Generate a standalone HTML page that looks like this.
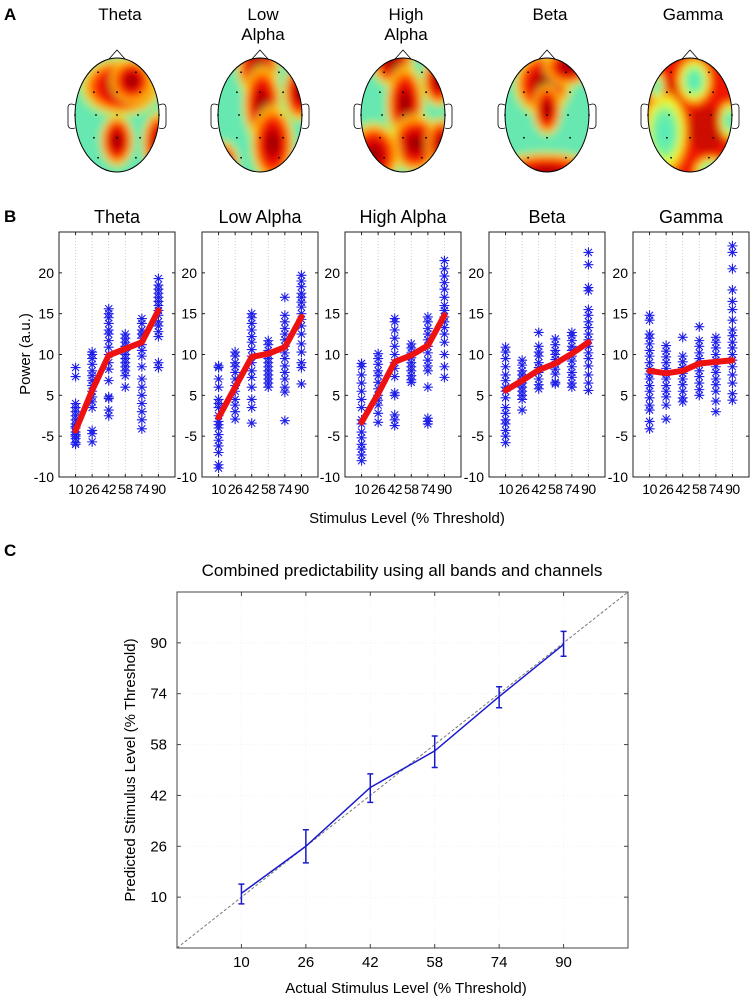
<!DOCTYPE html>
<html><head><meta charset="utf-8"><style>
html,body{margin:0;padding:0;background:#fff;}
svg{display:block;font-family:"Liberation Sans",Arial,sans-serif;}
</style></head><body>
<svg id="fig" width="754" height="1000" viewBox="0 0 754 1000" xmlns="http://www.w3.org/2000/svg">
<defs>
<radialGradient id="hot"><stop offset="0" stop-color="#7a0000"/><stop offset="0.3" stop-color="#d00000"/><stop offset="0.55" stop-color="#ff2000"/><stop offset="0.75" stop-color="#ffc000"/><stop offset="0.88" stop-color="#f0f040" stop-opacity="0.5"/><stop offset="1" stop-color="#66e8b0" stop-opacity="0"/></radialGradient>
<radialGradient id="cool"><stop offset="0" stop-color="#50e8c0"/><stop offset="0.4" stop-color="#70f0a0"/><stop offset="0.65" stop-color="#ffff20"/><stop offset="0.85" stop-color="#ff9000" stop-opacity="0.6"/><stop offset="1" stop-color="#ff2000" stop-opacity="0"/></radialGradient>
<filter id="soft" x="-30%" y="-30%" width="160%" height="160%"><feGaussianBlur stdDeviation="4"/></filter>
</defs>
<text x="4" y="20" font-size="17" font-weight="bold">A</text>
<text x="4" y="222" font-size="17" font-weight="bold">B</text>
<text x="4" y="556" font-size="17" font-weight="bold">C</text>
<g id="pa"></g>
<g id="pb"></g>
<text x="407" y="523" font-size="15" text-anchor="middle">Stimulus Level (% Threshold)</text>
<text transform="translate(30,354) rotate(-90)" font-size="15" text-anchor="middle">Power (a.u.)</text>
<g id="pc"></g>
</svg>
<script>
const NS='http://www.w3.org/2000/svg';
function mk(p,t,a){const e=document.createElementNS(NS,t);for(const k in a)e.setAttribute(k,a[k]);p.appendChild(e);return e;}

// ---------- Panel A topomaps ----------
const bandNames=['Theta','Low Alpha','High Alpha','Beta','Gamma'];
const headCx=[117,260,403,547,690];
const pa=document.getElementById('pa');
const hot=[
 [[0.1,-0.5,0.85,0.45],[0.35,-0.6,0.45,0.35],[0,0.45,0.35,0.4],[1.0,0.5,0.35,0.5]],
 [[-0.05,-0.85,0.45,0.5],[0.05,-0.2,0.4,0.6],[0.3,0.5,0.45,0.6],[0.95,-0.4,0.35,0.45],[-0.9,0.85,0.35,0.35]],
 [[-0.25,-0.95,0.45,0.4],[0.05,-0.2,0.4,0.6],[0.3,0.5,0.55,0.45],[0.85,-0.6,0.35,0.4],[-0.7,0.7,0.55,0.5],[0.9,0.5,0.3,0.4]],
 [[-0.1,-0.55,0.6,0.5],[0,-0.1,0.3,0.4],[0.5,-0.85,0.5,0.3],[0,1.05,1.2,0.35]],
 []
];
const coolB=[[0.1,-0.6,0.3,0.3],[-0.6,0.3,0.4,0.55],[0.95,0.1,0.2,0.25],[0.5,1.0,0.3,0.2],[-0.8,-0.5,0.15,0.2]];
headCx.forEach((cx,i)=>{
  const cy=115,rx=42,ry=57;
  const g=mk(pa,'g',{});
  
  
  const t=mk(g,'text',{x:cx+3,y:20,'font-size':17,'text-anchor':'middle'});
  
  
  if(bandNames[i].includes(' ')){const w=bandNames[i].split(' ');t.textContent=w[0];const t2=mk(g,'text',{x:cx+3,y:40,'font-size':17,'text-anchor':'middle'});t2.textContent=w[1];}
  else t.textContent=bandNames[i];
  const cp=mk(g,'clipPath',{id:'hc'+i});mk(cp,'ellipse',{cx:cx,cy:cy,rx:rx,ry:ry});
  mk(g,'path',{d:`M${cx-8} ${cy-ry+1} L${cx} ${cy-ry-8} L${cx+8} ${cy-ry+1}`,fill:'none',stroke:'#000','stroke-width':0.8});
  mk(g,'path',{d:`M${cx-rx} ${cy-10} q-7 -3 -7 3 v16 q0 6 7 4`,fill:'#fff',stroke:'#000','stroke-width':0.8});
  mk(g,'path',{d:`M${cx+rx} ${cy-10} q7 -3 7 3 v16 q0 6 -7 4`,fill:'#fff',stroke:'#000','stroke-width':0.8});
  const cg=mk(g,'g',{'clip-path':`url(#hc${i})`});
  const fg=mk(cg,'g',{filter:'url(#soft)'});
  if(i<4){
    mk(fg,'rect',{x:cx-rx-10,y:cy-ry-10,width:2*rx+20,height:2*ry+20,fill:'#66e8b0'});
    hot[i].forEach(b=>mk(fg,'ellipse',{cx:cx+b[0]*rx,cy:cy+b[1]*ry,rx:b[2]*rx*1.3,ry:b[3]*ry*1.3,fill:'url(#hot)'}));
  } else {
    mk(fg,'rect',{x:cx-rx-10,y:cy-ry-10,width:2*rx+20,height:2*ry+20,fill:'#f01800'});
    [[0.4,0.25,0.45,0.4],[-0.5,-0.3,0.3,0.3]].forEach(b=>mk(fg,'ellipse',{cx:cx+b[0]*rx,cy:cy+b[1]*ry,rx:b[2]*rx,ry:b[3]*ry,fill:'#a00000',opacity:0.45}));
    coolB.forEach(b=>mk(fg,'ellipse',{cx:cx+b[0]*rx,cy:cy+b[1]*ry,rx:b[2]*rx*1.6,ry:b[3]*ry*1.6,fill:'url(#cool)'}));
  }
  mk(g,'ellipse',{cx:cx,cy:cy,rx:rx,ry:ry,fill:'none',stroke:'#000','stroke-width':1});
  [[-0.45,-0.75],[0.45,-0.75],[-0.55,-0.4],[0,-0.4],[0.55,-0.4],[-1,0],[-0.5,0],[0,0],[0.5,0],[1,0],[-0.55,0.4],[0,0.4],[0.55,0.4],[-0.45,0.75],[0.45,0.75]].forEach(p=>mk(g,'circle',{cx:cx+p[0]*rx,cy:cy+p[1]*ry,r:0.9,fill:'#000'}));
});

// ---------- Panel B scatter ----------
const levels=[10,26,42,58,74,90];
const bYTicks=[-10,-5,0,5,10,15];
const bYTickLabels=['-10','-5','5','10','15','20'];
const meanTheta=[-4.3,0.6,4.9,5.7,6.5,10.4];
const meanLowAlpha=[-2.7,1.0,4.7,5.1,5.9,9.6];
const meanHighAlpha=[-3.3,0.2,4.1,4.9,6.1,9.8];
const meanBeta=[0.6,1.8,3.1,3.9,5.1,6.5];
const meanGamma=[3.0,2.7,3.0,3.9,4.1,4.3];
const ptsTheta=[[3.4,2.3,-1,-1.5,-2,-2.5,-3,-3.5,-4,-4.5,-5,-5.3,-5.8,-6,-4.8,-3.8],[5.3,5,4.5,3.8,3,2.4,1.8,1.2,0.5,-0.2,-0.8,-1.5,-4.3,-4.7,-5.7],[10.6,10,9.5,8.8,8,7.5,6.7,5.9,5,4,3.2,1.8,-0.2,-0.4,-1.8,-2.5],[7.5,7,6.5,6,5.5,5,4.5,4,3.5,3,2.4,1],[9.4,8.8,8,7.5,7,6.2,5.5,4.8,3.5,2,1,0,-1,-2,-3,-4.1],[14.3,13.5,13,12.5,12,11.5,11,10.4,9.8,9,8.5,7.8,7.2,4,3.4]];
const ptsLowAlpha=[[3.6,3.4,2,1,-0.5,-1.5,-2.5,-3.2,-4,-4.8,-5.5,-6.2,-7,-8.5,-8.9,-1,-3.6],[5.3,4.8,4,3.5,2.8,2,1.2,0.5,-0.5,-1.2,-2,-2.9],[10,9.5,8.8,8,7.2,6.5,5.6,4.8,4,3,2.2,1,-0.5,-1.5,-3.4],[6.7,6.2,5.5,5,4.5,4,3.5,3,2.5,2,1.5,1],[12,9.8,9,8.2,7.5,6.8,6,5.2,4.5,3.6,2.8,2,1,0.4,-3.1],[14.7,14,13.3,12.5,12,11.4,10.8,10,9.3,8.5,7.5,6.3,5.3,4,3.4,1.4]];
const ptsHighAlpha=[[3.9,3.5,2.5,1.5,0.5,-0.5,-1.5,-3,-3.5,-4.5,-5.2,-6,-6.6,-7.3,-8],[5.1,4.5,3.8,3,2.4,1.6,0.8,0,-0.6,-1.2,-2.2,-3.3],[9.4,9,8,7,6,5,4,3.3,2.3,0.3,0,-2.4,-3,-3.7],[6.3,5.8,5.2,4.6,4,3.5,3,2.4,1.9,1.6],[9.6,9,8.2,7.5,6.8,6,5.2,4.3,3.6,3,1,-2.8,-3.2,-3.5],[16.5,15.5,14.6,13.8,13,12,11,10.4,9.6,9,8.3,7.5,6.5,5,3.5,2.2]];
const ptsBeta=[[5.9,5.3,4.5,3.5,2.5,1.8,1,0.5,-0.3,-1.5,-2.2,-3,-3.5,-4.3,-5,-5.8],[4.3,3.7,3,2.5,2,1.5,1,0.5,0,-0.5,-1.8],[7.7,6,5.3,4.8,4,3.4,2.8,2,1.3,0.8],[6.9,6.2,5.5,5,4.4,3.8,3.2,2.6,1.6,1.4],[7.7,7.3,6.7,6,5.5,4.8,4.2,3.5,2.8,2.2,1.5,1],[17.5,16,13.2,12.8,10.5,9.8,9,8.3,7.5,6.8,6,5.2,4.5,3.6,2.5,1.5,0.6]];
const ptsGamma=[[9.8,9.2,7.5,7,6.3,5.5,4.8,4,3.3,2.6,2,1.2,0.5,-0.3,-1.2,-1.8,-3.2,-4.1],[6.1,5.4,4.7,4,3.3,2.6,2,1.2,0.5,-0.2,-1.2,-2.9],[7.1,4.8,4.1,3.4,2.7,2,1.3,0.5,-0.3,-0.8],[8.4,6.7,6,5.2,4.5,3.8,3,2.3,1.5,0.7,0],[7.1,6.5,5.8,5,4.3,3.5,2.8,2,1.3,0.5,-0.7,-2],[18.3,17.5,15.5,12.9,11.5,10.5,9.2,8,7.3,6.5,5.8,5,4.3,3.5,2.5,1.5,0.2,-0.6]];
const bMeans=[meanTheta,meanLowAlpha,meanHighAlpha,meanBeta,meanGamma];
const bPts=[ptsTheta,ptsLowAlpha,ptsHighAlpha,ptsBeta,ptsGamma];
const bTitles=['Theta','Low Alpha','High Alpha','Beta','Gamma'];
const pb=document.getElementById('pb');
const bLeft=[59,202,345,489,633],bW=116,bTop=232,bBot=477;
function star(p,x,y,s,col){const d=[];for(let k=0;k<4;k++){const a=k*Math.PI/4;d.push(`M${x-s*Math.cos(a)} ${y-s*Math.sin(a)}L${x+s*Math.cos(a)} ${y+s*Math.sin(a)}`);}
  return mk(p,'path',{d:d.join(''),stroke:col,'stroke-width':1.1,fill:'none'});}
bTitles.forEach((tt,i)=>{
  const L=bLeft[i];
  const xs=v=>L+(v+6)/112*bW, ys=v=>bBot-(v+10)/30*(bBot-bTop);
  const g=mk(pb,'g',{});
  
  
  const t=mk(g,'text',{x:L+bW/2,y:223,'font-size':18,'text-anchor':'middle'});t.textContent=tt;
  
  
  levels.forEach(l=>mk(g,'line',{x1:xs(l),x2:xs(l),y1:bTop,y2:bBot,stroke:'#bbb','stroke-width':0.7,'stroke-dasharray':'1 2'}));
  bPts[i].forEach((arr,j)=>arr.forEach(v=>{const s=star(g,xs(levels[j]),ys(v),5,'#1f1fe8');
    
    }));
  const ml=mk(g,'polyline',{points:bMeans[i].map((v,j)=>xs(levels[j])+','+ys(v)).join(' '),fill:'none',stroke:'#ee1111','stroke-width':6,'stroke-linejoin':'round','stroke-linecap':'round'});
  
  
  mk(g,'rect',{x:L,y:bTop,width:bW,height:bBot-bTop,fill:'none',stroke:'#222','stroke-width':1});
  levels.forEach(l=>{mk(g,'line',{x1:xs(l),x2:xs(l),y1:bBot,y2:bBot-3,stroke:'#222'});mk(g,'line',{x1:xs(l),x2:xs(l),y1:bTop,y2:bTop+3,stroke:'#222'});
    const tl=mk(g,'text',{x:xs(l),y:494,'font-size':14,'text-anchor':'middle','letter-spacing':'-0.5'});tl.textContent=l;
    
    });
  bYTicks.forEach((v,k)=>{mk(g,'line',{x1:L,x2:L+3,y1:ys(v),y2:ys(v),stroke:'#222'});mk(g,'line',{x1:L+bW,x2:L+bW-3,y1:ys(v),y2:ys(v),stroke:'#222'});
    const tl=mk(g,'text',{x:L-5,y:ys(v)+5,'font-size':14,'text-anchor':'end'});tl.textContent=bYTickLabels[k];
    
    });
});

// ---------- Panel C ----------
const cLevels=[10,26,42,58,74,90];
const cPred=[11.2,26,44.5,56,73.1,89.5];
const cErrHi=[14.1,31.2,48.8,60.7,76.2,93.6];
const cErrLo=[7.9,20.8,39.8,50.8,69.6,85.8];
const pc=document.getElementById('pc');
const cL=177,cR=628,cT=592,cB=948;
const cx=v=>cL+(v+6)/112*(cR-cL), cy=v=>cB-(v+6)/112*(cB-cT);
const ct=mk(pc,'text',{x:402,y:576,'font-size':17,'text-anchor':'middle'});ct.textContent='Combined predictability using all bands and channels';


cLevels.forEach(l=>{mk(pc,'line',{x1:cx(l),x2:cx(l),y1:cT,y2:cB,stroke:'#eee','stroke-width':0.7,'stroke-dasharray':'1 2'});mk(pc,'line',{x1:cL,x2:cR,y1:cy(l),y2:cy(l),stroke:'#eee','stroke-width':0.7,'stroke-dasharray':'1 2'});});
const diag=mk(pc,'line',{x1:cx(-6),y1:cy(-6),x2:cx(106),y2:cy(106),stroke:'#777','stroke-width':1,'stroke-dasharray':'3 2'});


const pl=mk(pc,'polyline',{points:cLevels.map((l,j)=>cx(l)+','+cy(cPred[j])).join(' '),fill:'none',stroke:'#1a1acc','stroke-width':1.5});


cLevels.forEach((l,j)=>{const x=cx(l);const e=mk(pc,'path',{d:`M${x} ${cy(cErrHi[j])}V${cy(cErrLo[j])}M${x-3} ${cy(cErrHi[j])}h6M${x-3} ${cy(cErrLo[j])}h6`,stroke:'#1a1acc','stroke-width':1.5,fill:'none'});
  
  });
mk(pc,'rect',{x:cL,y:cT,width:cR-cL,height:cB-cT,fill:'none',stroke:'#444','stroke-width':1});
cLevels.forEach(l=>{
  mk(pc,'line',{x1:cx(l),x2:cx(l),y1:cB,y2:cB-4,stroke:'#444'});mk(pc,'line',{x1:cx(l),x2:cx(l),y1:cT,y2:cT+4,stroke:'#444'});
  mk(pc,'line',{x1:cL,x2:cL+4,y1:cy(l),y2:cy(l),stroke:'#444'});mk(pc,'line',{x1:cR,x2:cR-4,y1:cy(l),y2:cy(l),stroke:'#444'});
  const a=mk(pc,'text',{x:cx(l),y:967,'font-size':15,'text-anchor':'middle'});a.textContent=l;
  
  
  const b=mk(pc,'text',{x:cL-10,y:cy(l)+5,'font-size':15,'text-anchor':'end'});b.textContent=l;
  
  
});
const xl=mk(pc,'text',{x:406,y:993,'font-size':15,'text-anchor':'middle'});xl.textContent='Actual Stimulus Level (% Threshold)';


const yl=mk(pc,'text',{transform:'translate(135,770) rotate(-90)','font-size':15,'text-anchor':'middle'});yl.textContent='Predicted Stimulus Level (% Threshold)';


</script>
</body></html>
